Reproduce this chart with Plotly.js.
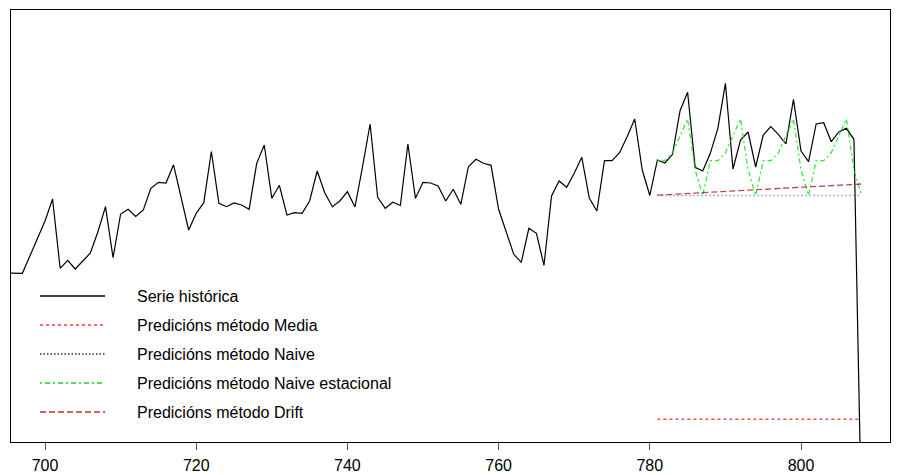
<!DOCTYPE html>
<html>
<head>
<meta charset="utf-8">
<script src="https://cdn.plot.ly/plotly-3.0.1.min.js"></script>
<style>html,body{margin:0;padding:0;background:#fff}#chart{width:900px;height:475px}</style>
</head>
<body>
<div id="chart"></div>
<script>
// Observed series (time index and value)
const serieT = [695,696,697,698,699,700,701,702,703,704,705,706,707,708,709,710,711,712,713,714,715,716,717,718,719,720,721,722,723,724,725,726,727,728,729,730,731,732,733,734,735,736,737,738,739,740,741,742,743,744,745,746,747,748,749,750,751,752,753,754,755,756,757,758,759,760,761,762,763,764,765,766,767,768,769,770,771,772,773,774,775,776,777,778,779,780,781,782,783,784,785,786,787,788,789,790,791,792,793,794,795,796,797,798,799,800,801,802,803,804,805,806,807,808];
const serieV = [247,246.7,246.7,264,282,299,321,251.7,259.7,251,259,267,288.3,313.3,262.3,306,310.7,303.5,310,331.7,337.7,337,355.2,323,290,306.7,317.3,368.5,316.7,313.3,317,315,310.8,356.7,375,321.7,334.7,305,307.3,306.7,319,349,327.3,313.3,319,328.3,313,353.3,396,322.7,311.7,317.8,314.5,376,321.7,337.7,337,334,319,330.8,315.7,353.3,360.7,356.7,354.7,310.7,289,265.7,257.7,291.7,286.7,254.7,324,339,332.7,346.7,362.7,321.7,309,359.3,359.3,367.3,383.3,401,350,324.5,360,357,365.7,409.3,427.7,352.7,349,366.7,391.7,436.7,351,380,388,353,385,393.3,385.7,376,420.7,369,358.3,396,397.3,378.3,388,391.7,380.7,0];

// Forecast horizon
const predT = [781,782,783,784,785,786,787,788,789,790,791,792,793,794,795,796,797,798,799,800,801,802,803,804,805,806,807,808];
const predMedia = [100.7,100.7,100.7,100.7,100.7,100.7,100.7,100.7,100.7,100.7,100.7,100.7,100.7,100.7,100.7,100.7,100.7,100.7,100.7,100.7,100.7,100.7,100.7,100.7,100.7,100.7,100.7,100.7];
const predNaive = [324.5,324.5,324.5,324.5,324.5,324.5,324.5,324.5,324.5,324.5,324.5,324.5,324.5,324.5,324.5,324.5,324.5,324.5,324.5,324.5,324.5,324.5,324.5,324.5,324.5,324.5,324.5,324.5];
const predEstacional = [359.3,359.3,367.3,383.3,401,350,324.5,359.3,359.3,367.3,383.3,401,350,324.5,359.3,359.3,367.3,383.3,401,350,324.5,359.3,359.3,367.3,383.3,401,350,324.5];
const predDrift = [324.9,325.3,325.7,326.1,326.6,327.0,327.4,327.8,328.2,328.6,329.0,329.4,329.8,330.2,330.7,331.1,331.5,331.9,332.3,332.7,333.1,333.5,333.9,334.3,334.8,335.2,335.6,336.0];

const xTicks = [700,720,740,760,780,800];
const legendLabels = ["Serie histórica","Predicións método Media","Predicións método Naive","Predicións método Naive estacional","Predicións método Drift"];

const traces = [
  {x: serieT, y: serieV, type:'scatter', mode:'lines', line:{color:'#000000', width:1.2}, showlegend:false, hoverinfo:'skip'},
  {x: predT, y: predMedia, type:'scatter', mode:'lines', line:{color:'#ff4a4a', width:1.5, dash:'3px,3px'}, showlegend:false},
  {x: predT, y: predNaive, type:'scatter', mode:'lines', line:{color:'rgba(70,70,255,0.6)', width:1.3, dash:'1.5px,2.5px'}, showlegend:false},
  {x: predT, y: predEstacional, type:'scatter', mode:'lines', line:{color:'rgba(0,230,0,0.85)', width:1.2, dash:'2px,3px,5px,3px'}, showlegend:false},
  {x: predT, y: predDrift, type:'scatter', mode:'lines', line:{color:'rgba(170,30,30,0.8)', width:1.3, dash:'6px,3px'}, showlegend:false}
];

// manual legend (R style)
const legendStyles = [
  {color:'#000000', dash:'solid'},
  {color:'#ff3030', dash:'3px,3px'},
  {color:'#333333', dash:'1.5px,2px'},
  {color:'#22cc22', dash:'2px,3px,5px,3px'},
  {color:'#c03030', dash:'6px,3px'}
];
const L = 11, T = 10, W = 879, H = 432;
const legY = [296,325,354,383,412];
const shapes = [], annotations = [];
legendLabels.forEach((lab,i)=>{
  const py = (T + H - legY[i]) / H;
  shapes.push({type:'line', xref:'paper', yref:'paper', x0:(40-L)/W, x1:(105-L)/W, y0:py, y1:py,
    line:{color:legendStyles[i].color, width:1.3, dash:legendStyles[i].dash}});
  annotations.push({xref:'paper', yref:'paper', x:(135-L)/W, y:py, xanchor:'left', yanchor:'middle',
    text:lab, showarrow:false, font:{family:'Liberation Sans, Arial, sans-serif', size:16, color:'#000'}});
});

const layout = {
  width:900, height:475,
  margin:{l:11, r:10, t:10, b:33},
  paper_bgcolor:'#fff', plot_bgcolor:'#fff',
  showlegend:false,
  xaxis:{range:[695.5,811.77], tickvals:xTicks, ticktext:xTicks.map(String), showgrid:false, zeroline:false,
    showline:true, mirror:true, linecolor:'#000', linewidth:1,
    ticks:'outside', ticklen:7, tickwidth:1, tickcolor:'#555', ticklabelstandoff:2,
    tickfont:{family:'Liberation Sans, Arial, sans-serif', size:16, color:'#000'}},
  yaxis:{range:[78,510], showgrid:false, zeroline:false, showticklabels:false, ticks:'',
    showline:true, mirror:true, linecolor:'#000', linewidth:1},
  shapes:shapes, annotations:annotations
};
Plotly.newPlot('chart', traces, layout, {staticPlot:true, displayModeBar:false});
</script>
</body>
</html>
